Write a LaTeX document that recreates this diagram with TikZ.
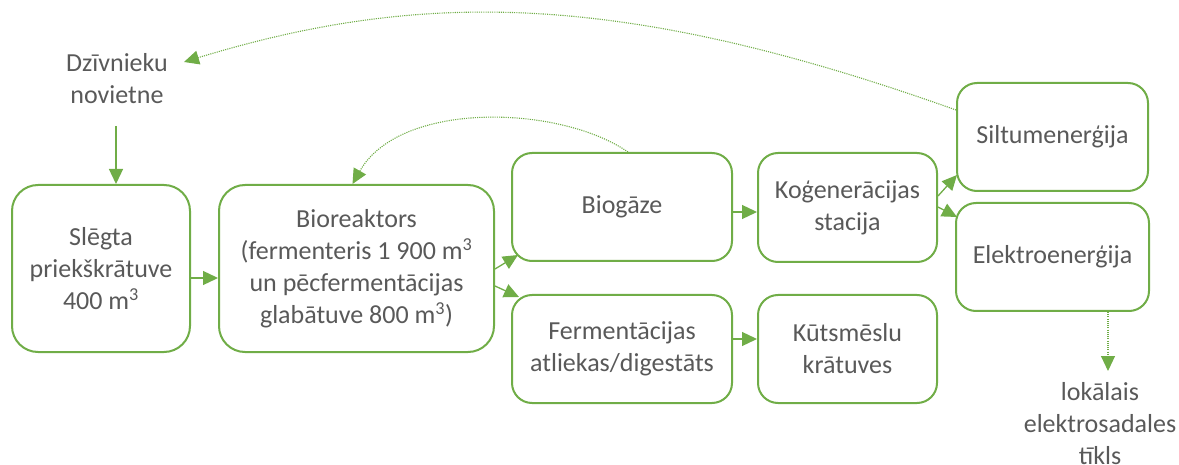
\documentclass[tikz,border=0pt]{standalone}
\usepackage{fontspec}
\setmainfont{Carlito}
\usetikzlibrary{arrows.meta,calc}
\definecolor{grn}{HTML}{70AD47}
\definecolor{txt}{HTML}{595959}
\begin{document}
\begin{tikzpicture}[x=1pt,y=-1pt,
  box/.style={draw=grn, line width=2pt, fill=white, text=txt, align=center,
    inner sep=0pt, font=\fontsize{26}{32}\selectfont},
  lbl/.style={text=txt, align=center, inner sep=0pt, font=\fontsize{26}{32}\selectfont},
  arr/.style={draw=grn, line width=1.3pt, -{Triangle[length=15pt,width=14pt]}},
  dotarr/.style={draw=grn, line width=1.1pt, dash pattern=on 1.1pt off 1.1pt,
    -{Triangle[length=15pt,width=14pt]}}]
\useasboundingbox (0,0) rectangle (1179,465);

% boxes
\node[box, minimum width=178pt, minimum height=167pt, rounded corners=26pt] (slg) at (101,268.5)
  {Slēgta\\priekškrātuve\\400 m\textsuperscript{3}};
\node[box, minimum width=275pt, minimum height=167pt, rounded corners=26pt] (bio) at (356.5,268.5)
  {Bioreaktors\\(fermenteris 1 900 m\textsuperscript{3}\\un pēcfermentācijas\\glabātuve 800 m\textsuperscript{3})};
\node[box, minimum width=220pt, minimum height=108pt, rounded corners=20pt] (biog) at (622,207)
  {Biogāze};
\node[box, minimum width=220pt, minimum height=108pt, rounded corners=20pt] (ferm) at (622,349)
  {Fermentācijas\\atliekas/digestāts};
\node[box, minimum width=179pt, minimum height=109pt, rounded corners=20pt] (kog) at (847.5,207.5)
  {Koģenerācijas\\stacija};
\node[box, minimum width=179pt, minimum height=108pt, rounded corners=20pt] (kuts) at (847.5,349)
  {Kūtsmēslu\\krātuves};
\node[box, minimum width=191pt, minimum height=108pt, rounded corners=20pt] (silt) at (1052.5,137)
  {Siltumenerģija};
\node[box, minimum width=193pt, minimum height=108pt, rounded corners=20pt] (elek) at (1052.5,257)
  {Elektroenerģija};

% free labels
\node[lbl] (dz) at (117,79) {Dzīvnieku\\novietne};
\node[lbl] (lok) at (1100,424) {lokālais\\elektrosadales\\tīkls};

% helper coordinates
\coordinate (dzin) at (116,126);
\coordinate (dzt) at (184,62);
\coordinate (lokt) at (1108,371);

% solid arrows
\draw[arr] (dzin) -- (dzin |- slg.north);
\draw[arr] (slg.east |- 0,278) -- (bio.west |- 0,278);
\draw[arr] (bio.east |- 0,269) -- ($(biog.south west)+(7,-7)$);
\draw[arr] (bio.east |- 0,286) -- ($(ferm.north west)+(8,3)$);
\draw[arr] (biog.east |- 0,212) -- (kog.west |- 0,212);
\draw[arr] (ferm.east |- 0,339) -- (kuts.west |- 0,339);
\draw[arr] (kog.east |- 0,196) -- ($(silt.south west)+(1,-17)$);
\draw[arr] (kog.east |- 0,207) -- ($(elek.north west)+(2,15)$);

% dotted arrows
\draw[dotarr] (silt.west |- 0,110) .. controls (620,-10) and (420,-10) .. (dzt);
\draw[dotarr] ($(biog.north)+(6,0)$) .. controls (560,105) and (400,100) .. ($(bio.north)+(-4,0)$);
\draw[dotarr] (elek.south -| lokt) -- (lokt);
\end{tikzpicture}
\end{document}
